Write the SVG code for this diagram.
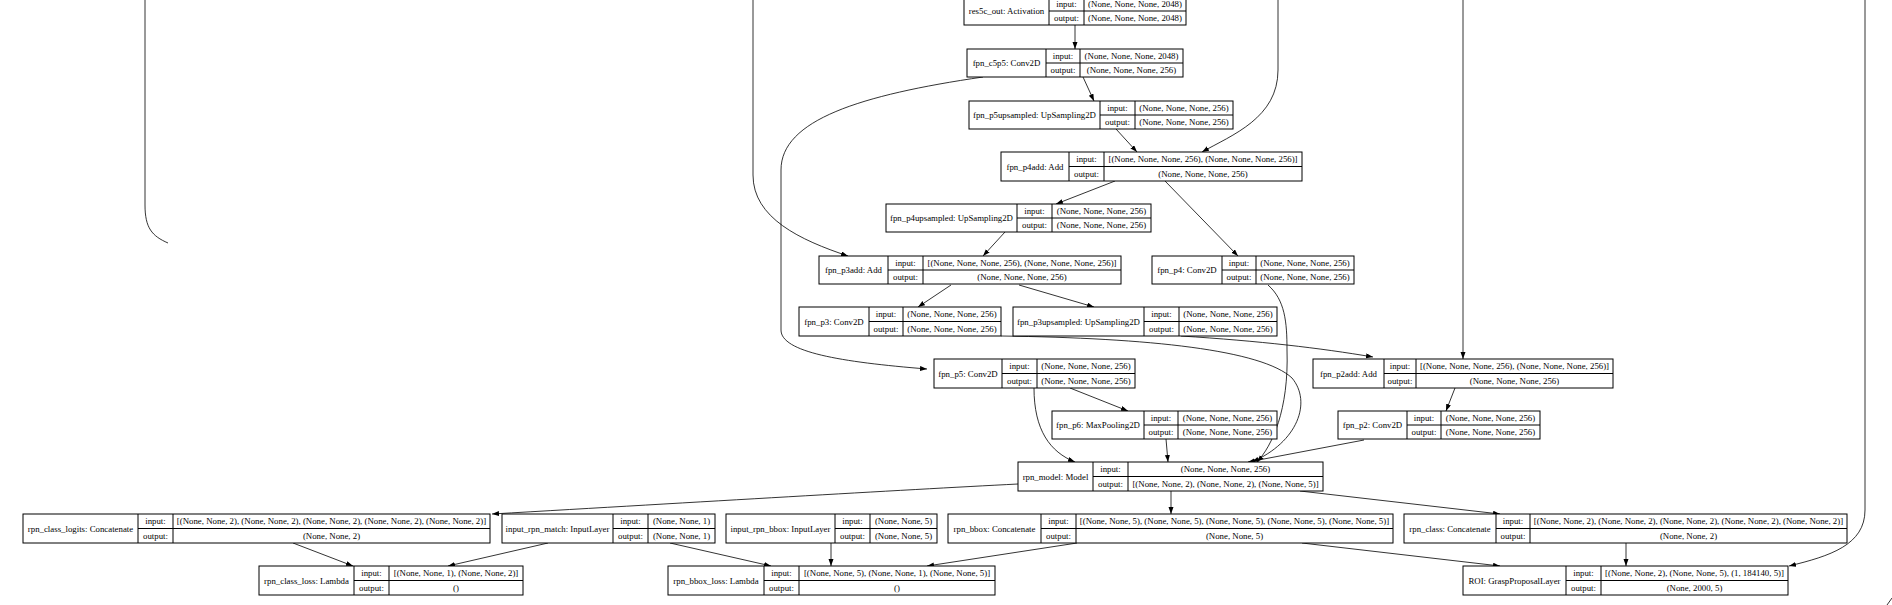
<svg xmlns="http://www.w3.org/2000/svg" width="1892" height="605" viewBox="0 0 1892 605">
<defs>
<style>
.bx rect{fill:#fff;stroke:#000;stroke-width:1}
.bx line{stroke:#000;stroke-width:1}
.bx text{font-family:"Liberation Serif","Times New Roman",serif;font-size:8.8px;text-anchor:middle;fill:#000}
.ed path{fill:none;stroke:#000;stroke-width:0.8;marker-end:url(#a)}
.ed path.na{marker-end:none}
</style>
<marker id="a" markerWidth="8" markerHeight="6" refX="7" refY="2.5" orient="auto" markerUnits="userSpaceOnUse"><path d="M0,0 L7,2.5 L0,5 z" fill="#000"/></marker>
</defs>
<rect width="1892" height="605" fill="#fff"/>
<g id="edges" class="ed">
<path d="M1075,25 L1075,49"/>
<path d="M1083,77 L1094,101"/>
<path d="M983,77 C860,95 781,120 781,170 L781,330 C781,352 840,362 927,369"/>
<path d="M1116,129 L1137,152"/>
<path d="M1278,0 L1278,70 C1278,118 1232,135 1202,152"/>
<path d="M1115,181 L1056,204"/>
<path d="M1165,181 L1238,256"/>
<path d="M1005,232 L983,256"/>
<path d="M753,0 L753,175 C753,218 800,240 848,256"/>
<path class="na" d="M145,0 L145,205 C145,228 152,236 168,243"/>
<path d="M951,285 L918,307"/>
<path d="M1019,285 L1094,307"/>
<path d="M1181,336 C1260,341 1320,348 1373,357"/>
<path d="M1001,336 C1150,338 1262,350 1292,378 C1312,402 1298,442 1252,462"/>
<path d="M1268,285 C1285,300 1287,322 1287,350 C1289,410 1272,446 1257,462"/>
<path d="M1463,0 L1463,359"/>
<path d="M1455,388 L1446,411"/>
<path d="M1364,440 L1248,462"/>
<path d="M1070,388 L1128,411"/>
<path d="M1034,388 C1034,430 1050,452 1075,462"/>
<path d="M1166,439 L1168,462"/>
<path d="M1171,491 L1171,514"/>
<path d="M1018,484 C900,490 700,502 492,514"/>
<path d="M1300,491 L1500,514"/>
<path d="M293,543 L353,566"/>
<path d="M548,543 L448,566"/>
<path d="M670,543 L771,566"/>
<path d="M831,543 L831,566"/>
<path d="M1077,543 L927,566"/>
<path d="M1302,543 L1500,566"/>
<path d="M1626,543 L1626,566"/>
<path d="M1865,0 L1865,510 C1865,545 1830,556 1789,566"/>
</g>
<path d="M1887,605 L1892,598" stroke="#000" stroke-width="0.8" fill="none"/>
<g id="n_res5c_out" class="bx"><rect x="964" y="-3" width="222" height="28"/><line x1="1049" y1="-3" x2="1049" y2="25"/><line x1="1084" y1="-3" x2="1084" y2="25"/><line x1="1049" y1="11" x2="1186" y2="11"/><text x="1006.5" y="14">res5c_out: Activation</text><text x="1066.5" y="7">input:</text><text x="1066.5" y="21">output:</text><text x="1135" y="7">(None, None, None, 2048)</text><text x="1135" y="21">(None, None, None, 2048)</text></g>
<g id="n_fpn_c5p5" class="bx"><rect x="967" y="49" width="216" height="28"/><line x1="1046" y1="49" x2="1046" y2="77"/><line x1="1080" y1="49" x2="1080" y2="77"/><line x1="1046" y1="63" x2="1183" y2="63"/><text x="1006.5" y="66">fpn_c5p5: Conv2D</text><text x="1063" y="59">input:</text><text x="1063" y="73">output:</text><text x="1131.5" y="59">(None, None, None, 2048)</text><text x="1131.5" y="73">(None, None, None, 256)</text></g>
<g id="n_fpn_p5upsampled" class="bx"><rect x="969" y="101" width="264" height="28"/><line x1="1100" y1="101" x2="1100" y2="129"/><line x1="1135" y1="101" x2="1135" y2="129"/><line x1="1100" y1="115" x2="1233" y2="115"/><text x="1034.5" y="118">fpn_p5upsampled: UpSampling2D</text><text x="1117.5" y="111">input:</text><text x="1117.5" y="125">output:</text><text x="1184" y="111">(None, None, None, 256)</text><text x="1184" y="125">(None, None, None, 256)</text></g>
<g id="n_fpn_p4add" class="bx"><rect x="1001" y="152" width="301" height="29"/><line x1="1069" y1="152" x2="1069" y2="181"/><line x1="1104" y1="152" x2="1104" y2="181"/><line x1="1069" y1="166.5" x2="1302" y2="166.5"/><text x="1035" y="169.5">fpn_p4add: Add</text><text x="1086.5" y="162.3">input:</text><text x="1086.5" y="176.8">output:</text><text x="1203" y="162.3">[(None, None, None, 256), (None, None, None, 256)]</text><text x="1203" y="176.8">(None, None, None, 256)</text></g>
<g id="n_fpn_p4upsampled" class="bx"><rect x="886" y="204" width="265" height="28"/><line x1="1017" y1="204" x2="1017" y2="232"/><line x1="1052" y1="204" x2="1052" y2="232"/><line x1="1017" y1="218" x2="1151" y2="218"/><text x="951.5" y="221">fpn_p4upsampled: UpSampling2D</text><text x="1034.5" y="214">input:</text><text x="1034.5" y="228">output:</text><text x="1101.5" y="214">(None, None, None, 256)</text><text x="1101.5" y="228">(None, None, None, 256)</text></g>
<g id="n_fpn_p3add" class="bx"><rect x="819" y="256" width="302" height="28"/><line x1="888" y1="256" x2="888" y2="284"/><line x1="923" y1="256" x2="923" y2="284"/><line x1="888" y1="270" x2="1121" y2="270"/><text x="853.5" y="273">fpn_p3add: Add</text><text x="905.5" y="266">input:</text><text x="905.5" y="280">output:</text><text x="1022" y="266">[(None, None, None, 256), (None, None, None, 256)]</text><text x="1022" y="280">(None, None, None, 256)</text></g>
<g id="n_fpn_p4" class="bx"><rect x="1152" y="256" width="202" height="28"/><line x1="1222" y1="256" x2="1222" y2="284"/><line x1="1256" y1="256" x2="1256" y2="284"/><line x1="1222" y1="270" x2="1354" y2="270"/><text x="1187" y="273">fpn_p4: Conv2D</text><text x="1239" y="266">input:</text><text x="1239" y="280">output:</text><text x="1305" y="266">(None, None, None, 256)</text><text x="1305" y="280">(None, None, None, 256)</text></g>
<g id="n_fpn_p3" class="bx"><rect x="799" y="307" width="202" height="29"/><line x1="869" y1="307" x2="869" y2="336"/><line x1="903" y1="307" x2="903" y2="336"/><line x1="869" y1="321.5" x2="1001" y2="321.5"/><text x="834" y="324.5">fpn_p3: Conv2D</text><text x="886" y="317.3">input:</text><text x="886" y="331.8">output:</text><text x="952" y="317.3">(None, None, None, 256)</text><text x="952" y="331.8">(None, None, None, 256)</text></g>
<g id="n_fpn_p3upsampled" class="bx"><rect x="1013" y="307" width="264" height="29"/><line x1="1144" y1="307" x2="1144" y2="336"/><line x1="1179" y1="307" x2="1179" y2="336"/><line x1="1144" y1="321.5" x2="1277" y2="321.5"/><text x="1078.5" y="324.5">fpn_p3upsampled: UpSampling2D</text><text x="1161.5" y="317.3">input:</text><text x="1161.5" y="331.8">output:</text><text x="1228" y="317.3">(None, None, None, 256)</text><text x="1228" y="331.8">(None, None, None, 256)</text></g>
<g id="n_fpn_p5" class="bx"><rect x="934" y="359" width="201" height="29"/><line x1="1002" y1="359" x2="1002" y2="388"/><line x1="1037" y1="359" x2="1037" y2="388"/><line x1="1002" y1="373.5" x2="1135" y2="373.5"/><text x="968" y="376.5">fpn_p5: Conv2D</text><text x="1019.5" y="369.3">input:</text><text x="1019.5" y="383.8">output:</text><text x="1086" y="369.3">(None, None, None, 256)</text><text x="1086" y="383.8">(None, None, None, 256)</text></g>
<g id="n_fpn_p2add" class="bx"><rect x="1313" y="359" width="300" height="29"/><line x1="1384" y1="359" x2="1384" y2="388"/><line x1="1416" y1="359" x2="1416" y2="388"/><line x1="1384" y1="373.5" x2="1613" y2="373.5"/><text x="1348.5" y="376.5">fpn_p2add: Add</text><text x="1400" y="369.3">input:</text><text x="1400" y="383.8">output:</text><text x="1514.5" y="369.3">[(None, None, None, 256), (None, None, None, 256)]</text><text x="1514.5" y="383.8">(None, None, None, 256)</text></g>
<g id="n_fpn_p6" class="bx"><rect x="1052" y="411" width="225" height="28"/><line x1="1144" y1="411" x2="1144" y2="439"/><line x1="1178" y1="411" x2="1178" y2="439"/><line x1="1144" y1="425" x2="1277" y2="425"/><text x="1098" y="428">fpn_p6: MaxPooling2D</text><text x="1161" y="421">input:</text><text x="1161" y="435">output:</text><text x="1227.5" y="421">(None, None, None, 256)</text><text x="1227.5" y="435">(None, None, None, 256)</text></g>
<g id="n_fpn_p2" class="bx"><rect x="1338" y="411" width="202" height="28"/><line x1="1407" y1="411" x2="1407" y2="439"/><line x1="1441" y1="411" x2="1441" y2="439"/><line x1="1407" y1="425" x2="1540" y2="425"/><text x="1372.5" y="428">fpn_p2: Conv2D</text><text x="1424" y="421">input:</text><text x="1424" y="435">output:</text><text x="1490.5" y="421">(None, None, None, 256)</text><text x="1490.5" y="435">(None, None, None, 256)</text></g>
<g id="n_rpn_model" class="bx"><rect x="1018" y="462" width="305" height="29"/><line x1="1093" y1="462" x2="1093" y2="491"/><line x1="1128" y1="462" x2="1128" y2="491"/><line x1="1093" y1="476.5" x2="1323" y2="476.5"/><text x="1055.5" y="479.5">rpn_model: Model</text><text x="1110.5" y="472.3">input:</text><text x="1110.5" y="486.8">output:</text><text x="1225.5" y="472.3">(None, None, None, 256)</text><text x="1225.5" y="486.8">[(None, None, 2), (None, None, 2), (None, None, 5)]</text></g>
<g id="n_rpn_class_logits" class="bx"><rect x="23" y="514" width="467" height="29"/><line x1="138" y1="514" x2="138" y2="543"/><line x1="173" y1="514" x2="173" y2="543"/><line x1="138" y1="528.5" x2="490" y2="528.5"/><text x="80.5" y="531.5">rpn_class_logits: Concatenate</text><text x="155.5" y="524.3">input:</text><text x="155.5" y="538.8">output:</text><text x="331.5" y="524.3">[(None, None, 2), (None, None, 2), (None, None, 2), (None, None, 2), (None, None, 2)]</text><text x="331.5" y="538.8">(None, None, 2)</text></g>
<g id="n_input_rpn_match" class="bx"><rect x="502" y="514" width="213" height="29"/><line x1="613" y1="514" x2="613" y2="543"/><line x1="648" y1="514" x2="648" y2="543"/><line x1="613" y1="528.5" x2="715" y2="528.5"/><text x="557.5" y="531.5">input_rpn_match: InputLayer</text><text x="630.5" y="524.3">input:</text><text x="630.5" y="538.8">output:</text><text x="681.5" y="524.3">(None, None, 1)</text><text x="681.5" y="538.8">(None, None, 1)</text></g>
<g id="n_input_rpn_bbox" class="bx"><rect x="726" y="514" width="211" height="29"/><line x1="835" y1="514" x2="835" y2="543"/><line x1="870" y1="514" x2="870" y2="543"/><line x1="835" y1="528.5" x2="937" y2="528.5"/><text x="780.5" y="531.5">input_rpn_bbox: InputLayer</text><text x="852.5" y="524.3">input:</text><text x="852.5" y="538.8">output:</text><text x="903.5" y="524.3">(None, None, 5)</text><text x="903.5" y="538.8">(None, None, 5)</text></g>
<g id="n_rpn_bbox" class="bx"><rect x="948" y="514" width="445" height="29"/><line x1="1041" y1="514" x2="1041" y2="543"/><line x1="1076" y1="514" x2="1076" y2="543"/><line x1="1041" y1="528.5" x2="1393" y2="528.5"/><text x="994.5" y="531.5">rpn_bbox: Concatenate</text><text x="1058.5" y="524.3">input:</text><text x="1058.5" y="538.8">output:</text><text x="1234.5" y="524.3">[(None, None, 5), (None, None, 5), (None, None, 5), (None, None, 5), (None, None, 5)]</text><text x="1234.5" y="538.8">(None, None, 5)</text></g>
<g id="n_rpn_class" class="bx"><rect x="1404" y="514" width="443" height="29"/><line x1="1496" y1="514" x2="1496" y2="543"/><line x1="1530" y1="514" x2="1530" y2="543"/><line x1="1496" y1="528.5" x2="1847" y2="528.5"/><text x="1450" y="531.5">rpn_class: Concatenate</text><text x="1513" y="524.3">input:</text><text x="1513" y="538.8">output:</text><text x="1688.5" y="524.3">[(None, None, 2), (None, None, 2), (None, None, 2), (None, None, 2), (None, None, 2)]</text><text x="1688.5" y="538.8">(None, None, 2)</text></g>
<g id="n_rpn_class_loss" class="bx"><rect x="259" y="566" width="264" height="29"/><line x1="354" y1="566" x2="354" y2="595"/><line x1="389" y1="566" x2="389" y2="595"/><line x1="354" y1="580.5" x2="523" y2="580.5"/><text x="306.5" y="583.5">rpn_class_loss: Lambda</text><text x="371.5" y="576.3">input:</text><text x="371.5" y="590.8">output:</text><text x="456" y="576.3">[(None, None, 1), (None, None, 2)]</text><text x="456" y="590.8">()</text></g>
<g id="n_rpn_bbox_loss" class="bx"><rect x="668" y="566" width="327" height="29"/><line x1="764" y1="566" x2="764" y2="595"/><line x1="799" y1="566" x2="799" y2="595"/><line x1="764" y1="580.5" x2="995" y2="580.5"/><text x="716" y="583.5">rpn_bbox_loss: Lambda</text><text x="781.5" y="576.3">input:</text><text x="781.5" y="590.8">output:</text><text x="897" y="576.3">[(None, None, 5), (None, None, 1), (None, None, 5)]</text><text x="897" y="590.8">()</text></g>
<g id="n_ROI" class="bx"><rect x="1463" y="566" width="325" height="29"/><line x1="1566" y1="566" x2="1566" y2="595"/><line x1="1601" y1="566" x2="1601" y2="595"/><line x1="1566" y1="580.5" x2="1788" y2="580.5"/><text x="1514.5" y="583.5">ROI: GraspProposalLayer</text><text x="1583.5" y="576.3">input:</text><text x="1583.5" y="590.8">output:</text><text x="1694.5" y="576.3">[(None, None, 2), (None, None, 5), (1, 184140, 5)]</text><text x="1694.5" y="590.8">(None, 2000, 5)</text></g>
</svg>
